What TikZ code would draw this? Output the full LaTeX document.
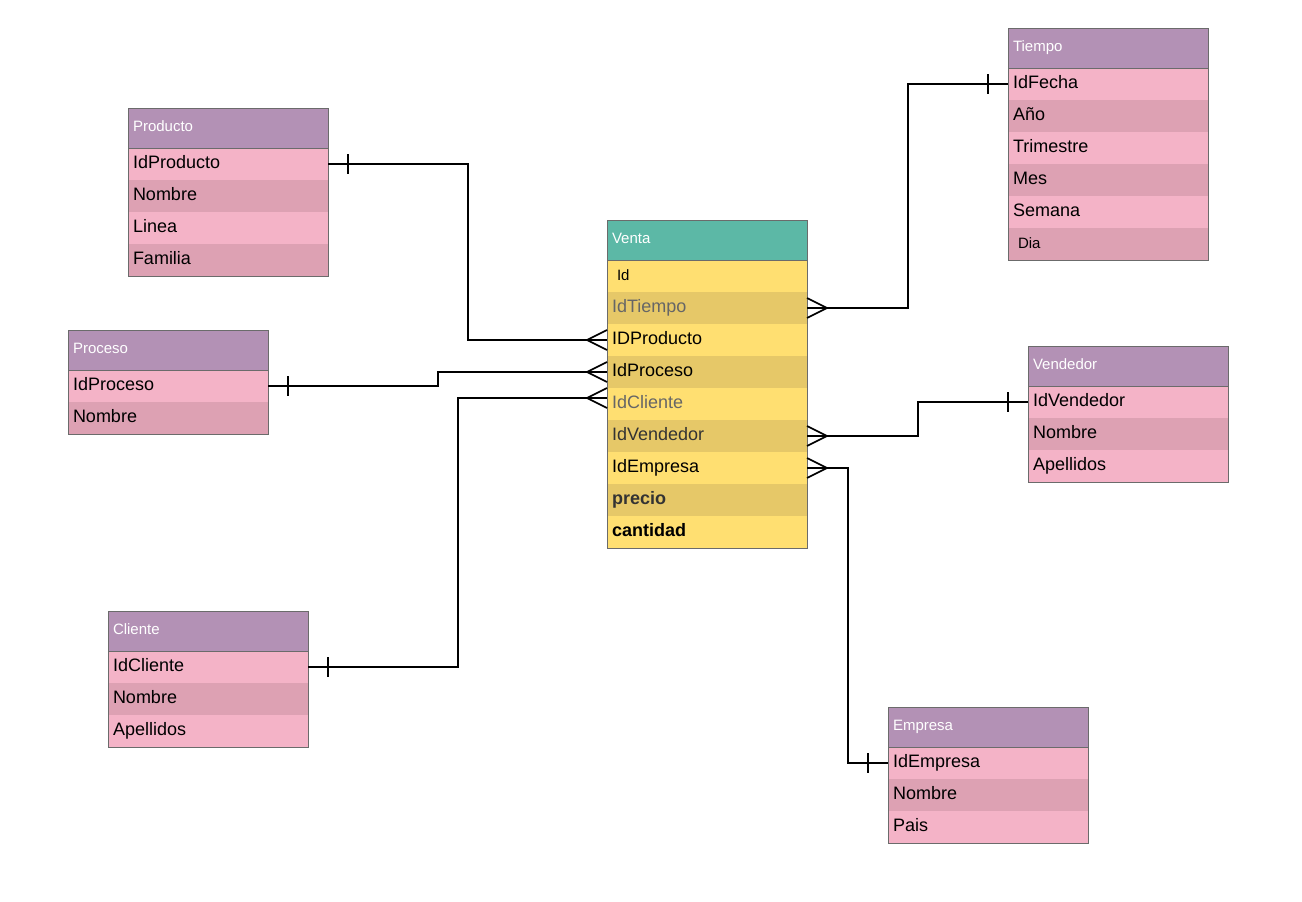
\documentclass[tikz,border=0pt]{standalone}
\usepackage{fontspec}
\setmainfont{Liberation Sans}
\usetikzlibrary{positioning}

\definecolor{pinkH}{HTML}{B391B5}
\definecolor{pinkA}{HTML}{F4B3C7}
\definecolor{pinkB}{HTML}{DDA1B3}
\definecolor{goldH}{HTML}{5CB8A6}
\definecolor{goldA}{HTML}{FFDF71}
\definecolor{goldB}{HTML}{E6C868}
\definecolor{edgegray}{HTML}{6B6B6B}
\definecolor{dimtext}{HTML}{666666}
\definecolor{darktext}{HTML}{333333}

% #1 name, #2 top left corner, #3 title, #4 palette, #5 fields, #6 number of fields
\newcommand{\entity}[6]{%
  \node[hdr,fill=#4H,anchor=north west] (#1-0) at #2 {#3};
  \foreach \f [count=\i] in {#5}{
    \pgfmathtruncatemacro\above{\i-1}
    \ifodd\i \def\rowfill{#4A}\else \def\rowfill{#4B}\fi
    \node[fieldrow,fill=\rowfill,below=0pt of #1-\above] (#1-\i) {\f};
  }
  \draw[outline] (#1-0.north west) rectangle (#1-#6.south east);
  \draw[outline] (#1-0.south west) -- (#1-0.south east);
}
% one / many ends of a relation
\newcommand{\onemark}[2]{\draw[rel] ([xshift=#2,yshift=10pt]#1) -- ([xshift=#2,yshift=-10pt]#1);}
\newcommand{\manymark}[2]{\draw[rel] ([xshift=#2]#1) -- ([yshift=10pt]#1) ([xshift=#2]#1) -- ([yshift=-10pt]#1);}

\begin{document}
\begin{tikzpicture}[
  x=1pt, y=-1pt,
  hdr/.style={text width=190pt, inner xsep=5pt, inner ysep=0pt, outer sep=0pt,
              minimum height=40pt, text height=11pt, text depth=3.5pt,
              align=left, text=white, font=\fontsize{15}{18}\selectfont},
  fieldrow/.style={text width=190pt, inner xsep=5pt, inner ysep=0pt, outer sep=0pt,
              minimum height=32pt, text height=13pt, text depth=4pt,
              align=left, font=\fontsize{18}{21}\selectfont},
  outline/.style={draw=edgegray, line width=1pt},
  rel/.style={draw=black, line width=1.6pt}
]
\useasboundingbox (0,0) rectangle (1302,902);

\entity{p}{(128,108)}{Producto}{pink}{IdProducto,Nombre,Linea,Familia}{4}
\entity{r}{(68,330)}{Proceso}{pink}{IdProceso,Nombre}{2}
\entity{c}{(108,611)}{Cliente}{pink}{IdCliente,Nombre,Apellidos}{3}
\entity{t}{(1008,28)}{Tiempo}{pink}{IdFecha,Año,Trimestre,Mes,Semana,
  {\hspace*{5pt}\fontsize{15}{18}\selectfont Dia}}{6}
\entity{d}{(1028,346)}{Vendedor}{pink}{IdVendedor,Nombre,Apellidos}{3}
\entity{e}{(888,707)}{Empresa}{pink}{IdEmpresa,Nombre,Pais}{3}
\entity{v}{(607,220)}{Venta}{gold}{{\hspace*{5pt}\fontsize{15}{18}\selectfont Id},
  {\color{dimtext}IdTiempo},IDProducto,IdProceso,{\color{dimtext}IdCliente},
  {\color{darktext}IdVendedor},IdEmpresa,{\bfseries\color{darktext}precio},
  {\bfseries cantidad}}{9}

% relations
\coordinate (v-cli) at ([yshift=6pt]v-5.west);
\draw[rel] (p-1.east) -- ++(140,0) |- (v-3.west);
\draw[rel] (r-1.east) -- ++(170,0) |- (v-4.west);
\draw[rel] (c-1.east) -- ++(150,0) |- (v-cli);
\draw[rel] (v-2.east) -- ++(101,0) |- (t-1.west);
\draw[rel] (v-6.east) -- ++(111,0) |- (d-1.west);
\draw[rel] (v-7.east) -- ++(41,0) |- (e-1.west);

\onemark{p-1.east}{20pt}
\onemark{r-1.east}{20pt}
\onemark{c-1.east}{20pt}
\onemark{t-1.west}{-20pt}
\onemark{d-1.west}{-20pt}
\onemark{e-1.west}{-20pt}
\manymark{v-3.west}{-20pt}
\manymark{v-4.west}{-20pt}
\manymark{v-cli}{-20pt}
\manymark{v-2.east}{20pt}
\manymark{v-6.east}{20pt}
\manymark{v-7.east}{20pt}
\end{tikzpicture}
\end{document}
